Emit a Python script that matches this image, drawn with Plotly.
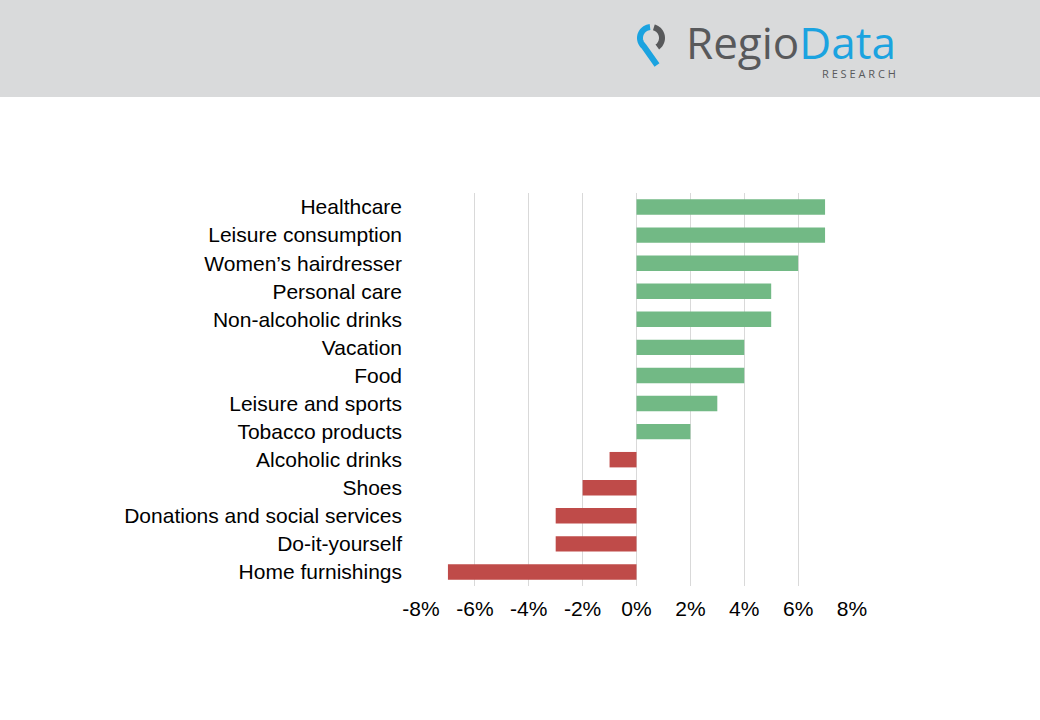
import numpy as np
import plotly.graph_objects as go

categories = ["Healthcare", "Leisure consumption", "Women’s hairdresser", "Personal care",
              "Non-alcoholic drinks", "Vacation", "Food", "Leisure and sports",
              "Tobacco products", "Alcoholic drinks", "Shoes",
              "Donations and social services", "Do-it-yourself", "Home furnishings"]
values = [7, 7, 6, 5, 5, 4, 4, 3, 2, -1, -2, -3, -3, -7]
tick_vals = [-8, -6, -4, -2, 0, 2, 4, 6, 8]
tick_text = ["-8%", "-6%", "-4%", "-2%", "0%", "2%", "4%", "6%", "8%"]

W, H = 1040, 720
colors = ["#72b985" if v > 0 else "#bf4b49" for v in values]

fig = go.Figure(go.Bar(
    x=values, y=categories, orientation="h",
    marker=dict(color=colors, line=dict(width=0)), width=0.55,
))

def px(x):
    return x / W

def py(y):
    return 1 - y / H

def arc_path(cx, cy, r, a0, a1, tail=None):
    # polyline arc in pixel coords (angles in degrees, screen y down)
    a = np.radians(np.linspace(a0, a1, 30))
    pts = [(cx + r * np.cos(t), cy - r * np.sin(t)) for t in a]
    if tail:
        pts.append(tail)
    return "M " + " L ".join(f"{px(x):.5f},{py(y):.5f}" for x, y in pts)

fig.update_layout(
    width=W, height=H,
    margin=dict(l=0, r=0, t=0, b=0, autoexpand=False),
    plot_bgcolor="white", paper_bgcolor="white",
    font=dict(family="Liberation Sans, Arial", size=21, color="#000000"),
    showlegend=False,
    xaxis=dict(domain=[px(421), px(852)], range=[-8, 8], tickvals=tick_vals,
               ticktext=tick_text, showgrid=True, gridcolor="#d9d9d9", gridwidth=1,
               zeroline=False, showline=False, ticks="", ticklabelstandoff=8,
               automargin=False),
    yaxis=dict(domain=[py(586), py(193)], autorange="reversed", showgrid=False,
               zeroline=False, showline=False, ticks="", ticklabelstandoff=18,
               automargin=False),
    shapes=[
        dict(type="rect", xref="paper", yref="paper", x0=0, x1=1, y0=py(97), y1=1,
             fillcolor="#d9dadb", line=dict(width=0), layer="below"),
        dict(type="path", xref="paper", yref="paper",
             path=arc_path(651, 38, 11, 95, 230, tail=(657, 65)),
             line=dict(color="#1ba3e0", width=6)),
        dict(type="path", xref="paper", yref="paper",
             path=arc_path(651, 38, 11, 75, -55),
             line=dict(color="#58595b", width=6)),
    ],
    annotations=[
        dict(xref="paper", yref="paper", x=px(684), y=py(42), xanchor="left",
             yanchor="middle", showarrow=False,
             text="<span style='color:#58595b'>Regio</span><span style='color:#1ba3e0'>Data</span>",
             font=dict(family="Open Sans", size=44)),
        dict(xref="paper", yref="paper", x=px(898), y=py(74), xanchor="right",
             yanchor="middle", showarrow=False, text="R E S E A R C H",
             font=dict(family="Open Sans", size=11, color="#58595b")),
    ],
)

fig.write_html("out.html", config={"displayModeBar": False},
               post_script="document.body.style.margin='0';document.body.style.overflow='hidden';")
